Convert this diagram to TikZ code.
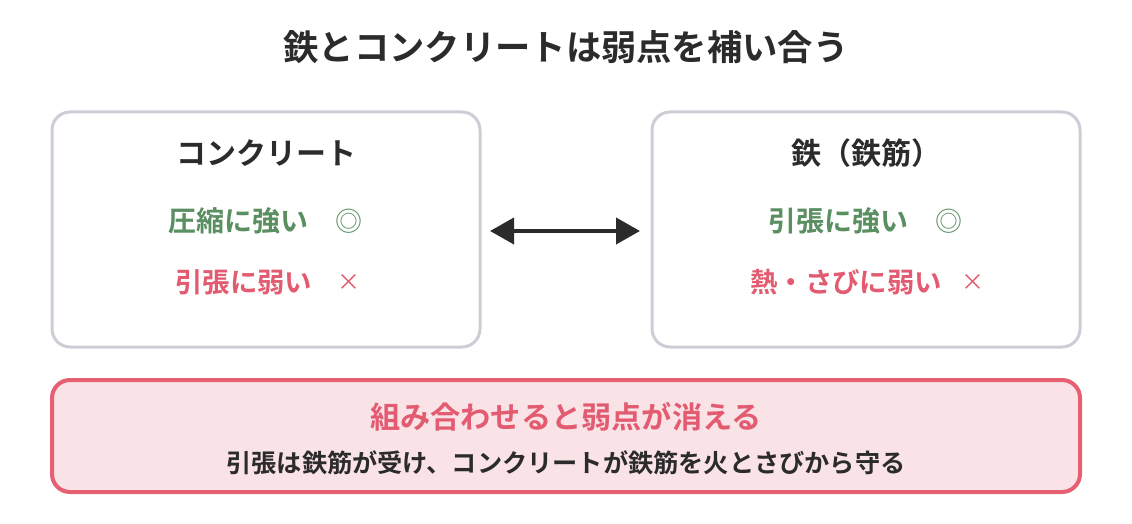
\documentclass[tikz,border=0pt]{standalone}
\usepackage{fontspec}
\setmainfont{Noto Sans CJK JP}
\newfontfamily\jpb{Noto Sans CJK JP Bold}
\usetikzlibrary{arrows.meta}
\definecolor{titlec}{HTML}{2B2B2B}
\definecolor{boxline}{HTML}{CFCCD6}
\definecolor{goodc}{HTML}{5A8F62}
\definecolor{badc}{HTML}{E35B70}
\definecolor{pinkfill}{HTML}{FAE3E7}
\definecolor{pinkline}{HTML}{E65F72}
\tikzset{
  panel/.style={draw=boxline, line width=3pt, rounded corners=18pt, fill=white},
  heading/.style={font=\jpb\fontsize{30}{32}\selectfont, text=titlec, inner sep=0pt},
  good/.style={font=\jpb\fontsize{28}{30}\selectfont, text=goodc, inner sep=0pt},
  bad/.style={font=\jpb\fontsize{27.4}{30}\selectfont, text=badc, inner sep=0pt},
  symb/.style={font=\fontsize{27}{29}\selectfont, inner sep=0pt},
}
\begin{document}
\begin{tikzpicture}[x=1pt,y=-1pt]
\useasboundingbox (0,0) rectangle (1132,524);
\node[font=\jpb\fontsize{35.3}{37}\selectfont, text=titlec, inner sep=0pt] (title) at (566,47) {鉄とコンクリートは弱点を補い合う};

\draw[panel] (52,112) rectangle (480,347);
\draw[panel] (652,112) rectangle (1080,347);
\coordinate (lbox) at (480,231);
\coordinate (rbox) at (652,231);

\node[heading] (lh) at (266,153) {コンクリート};
\node[good, anchor=west] (l1) at (168,221) {圧縮に強い};
\node[symb, text=goodc] (l1m) at (349,221) {◎};
\node[bad, anchor=west] (l2) at (175,282) {引張に弱い};
\node[symb, text=badc, font=\fontsize{23}{25}\selectfont] (l2m) at (349,282) {×};

\node[heading] (rh) at (866,153) {鉄（鉄筋）};
\node[good, anchor=west] (r1) at (768,221) {引張に強い};
\node[symb, text=goodc] (r1m) at (949,221) {◎};
\node[bad, anchor=west] (r2) at (750,282) {熱・さびに弱い};
\node[symb, text=badc, font=\fontsize{23}{25}\selectfont] (r2m) at (973,282) {×};

\draw[line width=4pt, color=titlec, {Triangle[length=24pt,width=26pt]}-{Triangle[length=24pt,width=26pt]}] ([xshift=10pt]lbox) -- ([xshift=-12pt]rbox);

\draw[draw=pinkline, fill=pinkfill, line width=4pt, rounded corners=18pt] (52,380) rectangle (1080,492);
\node[font=\jpb\fontsize{30.2}{32}\selectfont, text=badc, inner sep=0pt] (sum) at (566,417) {組み合わせると弱点が消える};
\node[font=\jpb\fontsize{25.2}{27}\selectfont, text=titlec, inner sep=0pt] (sub) at (566,463) {引張は鉄筋が受け、コンクリートが鉄筋を火とさびから守る};
\end{tikzpicture}
\end{document}
